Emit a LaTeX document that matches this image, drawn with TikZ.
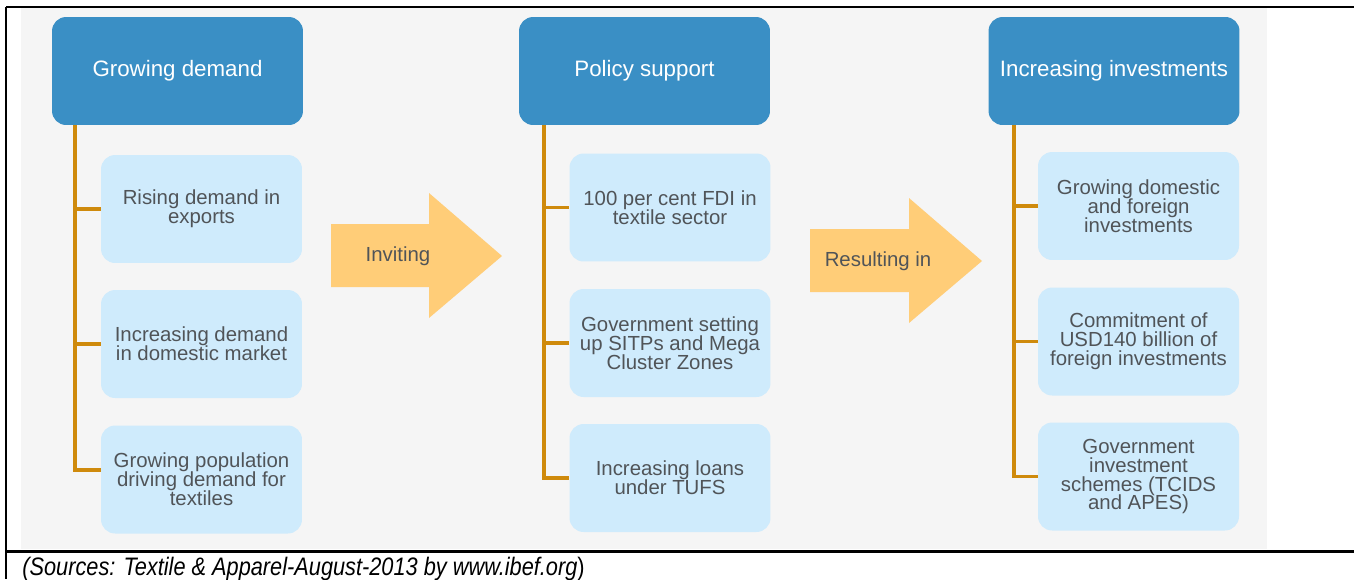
\documentclass[tikz,border=0pt]{standalone}
\usepackage{fontspec}
\setmainfont{Liberation Sans}
\newfontfamily\narrowsans[FakeStretch=0.86]{Liberation Sans}
\newcommand\itemfont{\fontsize{11.6}{10.8}\selectfont\lineskiplimit=-6pt\relax}

\definecolor{headblue}{HTML}{3A8FC5}
\definecolor{itemblue}{HTML}{CFEBFC}
\definecolor{stemorange}{HTML}{CF8A0C}
\definecolor{arrowyellow}{HTML}{FFCD78}
\definecolor{panelgray}{HTML}{F5F5F5}
\definecolor{textgray}{HTML}{505458}

\tikzset{
  head/.style={rectangle, rounded corners=8pt, fill=headblue, text=white,
    minimum width=5.02cm, minimum height=2.16cm, align=center,
    font=\fontsize{12.7}{14}\selectfont},
  item/.style={rectangle, rounded corners=8pt, fill=itemblue, text=textgray,
    minimum width=4.02cm, minimum height=2.16cm, align=center, inner sep=2pt,
    font=\itemfont},
  branch/.style={draw=stemorange, line width=2.2pt},
  bigarrow/.style={fill=arrowyellow},
  arrowtext/.style={text=textgray, font=\fontsize{11.6}{13}\selectfont},
  rule/.style={draw=black, line width=1.7pt}
}

\begin{document}
\begin{tikzpicture}[x=0.02cm, y=-0.02cm]

  \useasboundingbox (0,0) rectangle (1354,579);
  \fill[panelgray] (21,8) rectangle (1267,549);

  % table frame
  \draw[rule] (6,7) -- (1354,7);
  \draw[rule] (6,7) -- (6,579);
  \draw[rule] (6,551) -- (1354,551);

  \begin{scope}[every node/.style={head}]
    \node (dem) at (177.5,71) {Growing demand};
    \node (pol) at (644.5,71) {Policy support};
    \node (inv) at (1114,71)  {Increasing investments};
  \end{scope}

  \begin{scope}[every node/.style={item}]
    \node (dem1) at (201.5,209)   {Rising demand in\\exports};
    \node (dem2) at (201.5,344)   {Increasing demand\\in domestic market};
    \node (dem3) at (201.5,479.5) {Growing population\\driving demand for\\textiles};
    \node (pol1) at (670,207.5)   {100 per cent FDI in\\textile sector};
    \node (pol2) at (670,343)     {Government setting\\up SITPs and Mega\\Cluster Zones};
    \node (pol3) at (670,478)     {Increasing loans\\under TUFS};
    \node (inv1) at (1138.5,206)  {Growing domestic\\and foreign\\investments};
    \node (inv2) at (1138.5,341.5){Commitment of\\USD140 billion of\\foreign investments};
    \node (inv3) at (1138.5,476.5){Government\\investment\\schemes (TCIDS\\and APES)};
  \end{scope}

  % stems under the headers
  \coordinate (demT) at ([xshift=.46cm]dem.south west);
  \coordinate (polT) at ([xshift=.50cm]pol.south west);
  \coordinate (invT) at ([xshift=.52cm]inv.south west);

  \draw[branch] (demT) |- ([yshift=.19cm]dem3.west);
  \draw[branch] (demT |- dem1.west) -- (dem1.west);
  \draw[branch] (demT |- dem2.west) -- (dem2.west);
  \draw[branch] (polT) |- (pol3.west);
  \draw[branch] (polT |- pol1.west) -- (pol1.west);
  \draw[branch] (polT |- pol2.west) -- (pol2.west);
  \draw[branch] (invT) |- (inv3.west);
  \draw[branch] (invT |- inv1.west) -- (inv1.west);
  \draw[branch] (invT |- inv2.west) -- (inv2.west);

  % block arrows
  \fill[bigarrow] (331,224) -- (429,224) -- (429,193) -- (502,256)
    -- (429,318) -- (429,287) -- (331,287) -- cycle;
  \node[arrowtext] (inviting) at (398,256) {Inviting};
  \fill[bigarrow] (810,229) -- (909,229) -- (909,198) -- (982,261)
    -- (909,323) -- (909,292) -- (810,292) -- cycle;
  \node[arrowtext] (resulting) at (878,261) {Resulting in};

  \node[anchor=base west, font=\narrowsans\fontsize{14.4}{16}\selectfont, inner sep=0pt]
    (src) at (22,575) {\itshape(Sources: Textile \& Apparel-August-2013 by www.ibef.org\/\upshape)};

\end{tikzpicture}
\end{document}
